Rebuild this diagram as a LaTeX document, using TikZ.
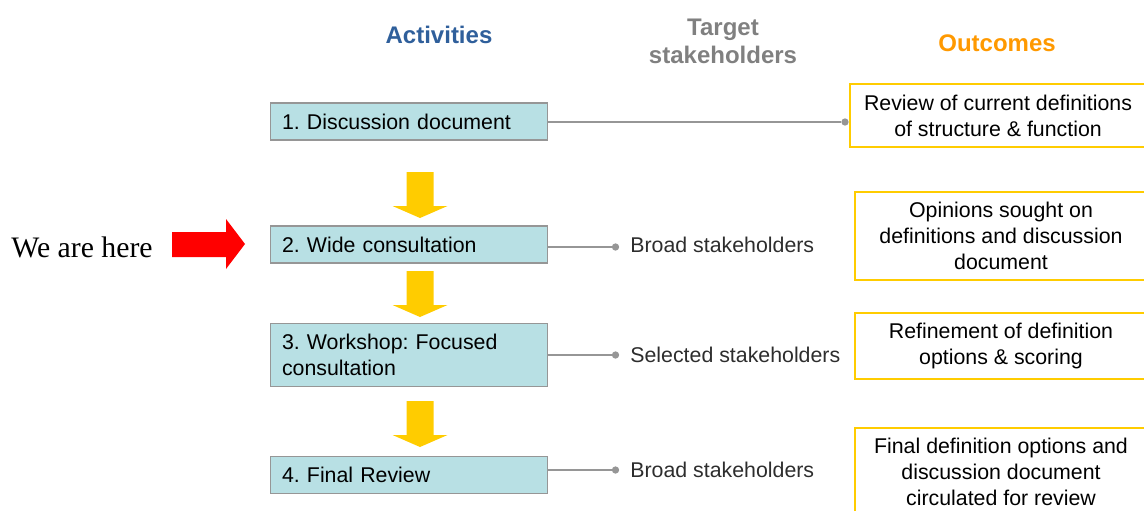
\documentclass[tikz,border=0pt]{standalone}
\usepackage{fontspec}
\setmainfont{Liberation Sans}
\newfontfamily\heretimes{Liberation Serif}
\usetikzlibrary{positioning}
\frenchspacing

\definecolor{actfill}{RGB}{184,224,228}
\definecolor{actline}{RGB}{150,150,150}
\definecolor{outline}{RGB}{255,204,0}
\definecolor{flowyellow}{RGB}{255,204,0}
\definecolor{linkgrey}{RGB}{150,150,150}
\definecolor{headblue}{RGB}{47,95,155}
\definecolor{headgrey}{RGB}{128,128,128}
\definecolor{headorange}{RGB}{255,153,0}
\definecolor{stakegrey}{RGB}{45,45,45}

\tikzset{
  actbox/.style   = {draw=actline, fill=actfill, line width=0.9pt, anchor=west,
                     text width=190.5pt, inner xsep=8.6pt, inner ysep=0pt,
                     minimum height=27.75pt, align=left,
                     font=\fontsize{16}{19.5}\selectfont},
  outbox/.style   = {draw=outline, line width=0.8pt, inner sep=0pt,
                     align=center, font=\fontsize{16}{19.5}\selectfont},
  link/.style     = {draw=linkgrey, line width=1pt},
  linkdot/.style  = {circle, fill=linkgrey, inner sep=0pt, minimum size=5.5pt},
  stake/.style    = {inner sep=0pt, text=stakegrey,
                     font=\fontsize{16}{19.5}\selectfont},
  heading/.style  = {align=center, font=\fontsize{18}{21}\selectfont\bfseries},
  flowdown/.pic   = {\fill[flowyellow] (-13.5,0) -- (13.5,0) -- (13.5,34)
                     -- (27.5,34) -- (0,46) -- (-27.5,34) -- (-13.5,34) -- cycle;}
}

\begin{document}
\begin{tikzpicture}[x=0.75pt, y=-0.75pt]
\useasboundingbox (0,0) rectangle (1144,510);
\clip (0,0) rectangle (1144,510);

% headings
\node[heading, text=headblue]   (hact)   at (439,35) {Activities};
\node[heading, text=headgrey]   (htarg)  at (723,41) {Target\\stakeholders};
\node[heading, text=headorange] (hout)   at (997,43) {Outcomes};

% activities
\node[actbox] (act1) at (270,121.5) {1. Discussion document};
\node[actbox] (act2) at (270,244.5) {2. Wide consultation};
\node[actbox, minimum height=47.25pt] (act3) at (270,355) {3. Workshop: Focused\\consultation};
\node[actbox] (act4) at (270,475) {4. Final Review};

% flow arrows
\pic at (420,172) {flowdown};
\pic at (420,271) {flowdown};
\pic at (420,401) {flowdown};

% we are here
\node[font=\heretimes\fontsize{22.3}{26}\selectfont, inner sep=0pt] (here) at (82,247) {We are here};
\fill[red] (172,232) -- (226,232) -- (226,219) -- (245,244) -- (226,269)
  -- (226,257) -- (172,257) -- cycle;

% outcomes
\node[outbox, minimum width=222pt, minimum height=47.25pt] (out1) at (998,115.5)
  {Review of current definitions\\of structure \& function};
\node[outbox, minimum width=219pt, minimum height=66pt] (out2) at (1001,236)
  {Opinions sought on\\definitions and discussion\\document};
\node[outbox, minimum width=219pt, minimum height=49.5pt] (out3) at (1001,346)
  {Refinement of definition\\options \& scoring};
\node[outbox, minimum width=219pt, minimum height=66pt] (out4) at (1001,472)
  {Final definition options and\\discussion document\\circulated for review};

% target stakeholders
\node[linkdot] (dot1) at (845,122) {};
\node[linkdot] (dot2) at (615.5,247) {};
\node[linkdot] (dot3) at (615.5,355) {};
\node[linkdot] (dot4) at (615.5,470) {};
\node[stake, anchor=west, right=8pt of dot2, yshift=1.5pt] (st2) {Broad stakeholders};
\node[stake, anchor=west, right=8pt of dot3] (st3) {Selected stakeholders};
\node[stake, anchor=west, right=8pt of dot4] (st4) {Broad stakeholders};

\draw[link] (dot1 -| act1.east) -- (dot1);
\draw[link] (dot2 -| act2.east) -- (dot2);
\draw[link] (dot3 -| act3.east) -- (dot3);
\draw[link] (dot4 -| act4.east) -- (dot4);

\end{tikzpicture}
\end{document}
